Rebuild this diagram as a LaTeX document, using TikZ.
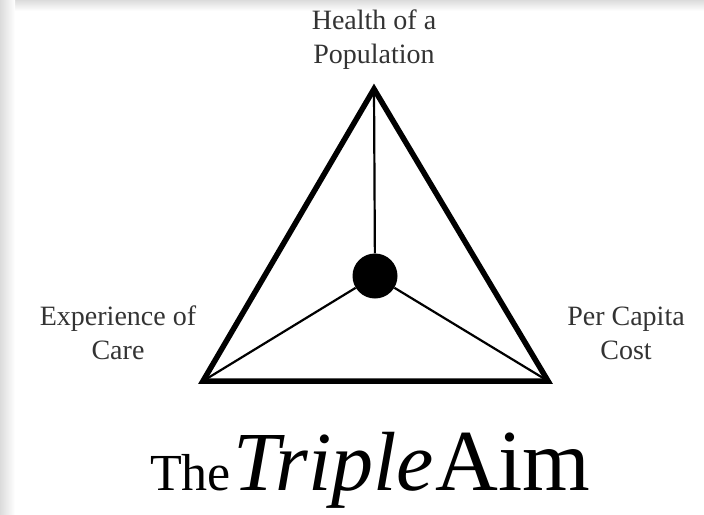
\documentclass[tikz,border=0pt]{standalone}
\usepackage{fontspec}
\setmainfont{Liberation Serif}
\usetikzlibrary{positioning}

\begin{document}
\begin{tikzpicture}[x=1pt,y=-1pt,
 label/.style={font=\fontsize{28}{34}\selectfont,text=black!80,align=center,inner sep=0pt},
 edge/.style={line width=5.5pt,line join=miter},
 spoke/.style={line width=2.2pt},
 title/.style={inner sep=0pt,anchor=base west}]
\useasboundingbox (0,0) rectangle (704,514);
% shadow along top and left edges
\shade[top color=black!14,bottom color=white,draw=none] (0,0) rectangle (704,11);
\shade[left color=black!14,right color=white,draw=none] (0,0) rectangle (15,514);
\coordinate (health) at (374,89);
\coordinate (experience) at (203,381);
\coordinate (cost) at (548,381);
\node[circle,fill=black,minimum size=45pt,inner sep=0pt] (hub) at (375,276) {};
\foreach \v in {health,experience,cost}
  \draw[spoke] (hub) -- (\v);
\draw[edge] (health) -- (experience) -- (cost) -- cycle;
\node[label] (healthtext) at (374,40) {Health of a\\Population};
\node[label] (experiencetext) at (118,333) {Experience of\\Care};
\node[label] (costtext) at (626,333) {Per Capita\\Cost};
\node[title,font=\fontsize{52}{52}\selectfont] (the) at (150,490) {The};
\node[title,font=\fontsize{84}{84}\selectfont\itshape,right=2pt of the.base east,anchor=base west] (triple) {Triple};
\node[title,font=\fontsize{87}{87}\selectfont,right=1pt of triple.base east,anchor=base west] (aim) {Aim};
\end{tikzpicture}
\end{document}
